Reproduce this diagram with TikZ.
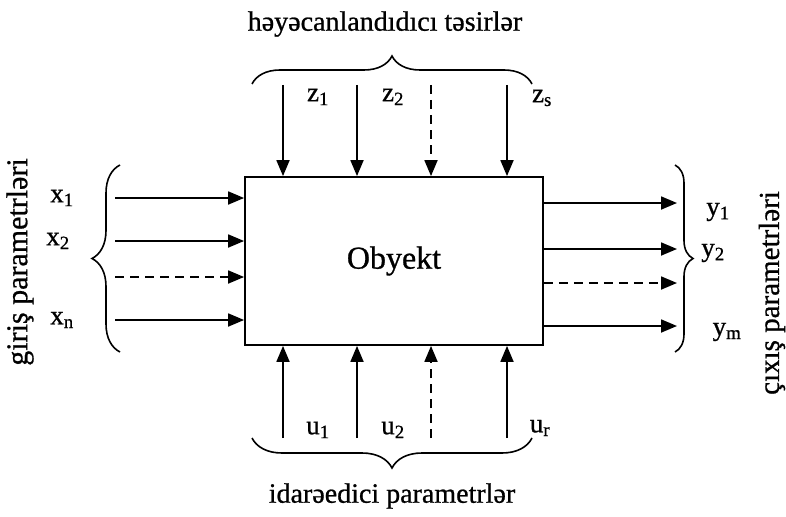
\documentclass[tikz,border=0pt]{standalone}
\usepackage{fontspec}
\setmainfont{Liberation Serif}[FakeBold=0.8]
\usetikzlibrary{arrows.meta,decorations.pathreplacing}
\begin{document}
\begin{tikzpicture}[x=1pt,y=-1pt,
  conn/.style={line width=1.8pt,-{Triangle[length=16pt,width=13pt]}},
  dconn/.style={conn,dash pattern=on 9pt off 6pt},
  brc/.style={line width=1.6pt,decorate,decoration={brace,amplitude=#1}},
  lbl/.style={font=\fontsize{27}{30}\selectfont,inner sep=0pt},
  ttl/.style={font=\fontsize{28}{32}\selectfont,inner sep=0pt}]
\useasboundingbox (0,0) rectangle (786,516);
% object box
\node[draw,line width=1.8pt,minimum width=298pt,minimum height=168pt,inner sep=0pt,
  font=\fontsize{32}{36}\selectfont] (obj) at (394,261) {Obyekt};
% top inputs
\coordinate (t1) at (283,85); \coordinate (t2) at (357,85);
\coordinate (t3) at (431,85); \coordinate (t4) at (507,85);
\draw[conn] (t1) -- (t1 |- obj.north);
\draw[conn] (t2) -- (t2 |- obj.north);
\draw[dconn] (t3) -- (t3 |- obj.north);
\draw[conn] (t4) -- (t4 |- obj.north);
% bottom inputs
\coordinate (b1) at (283,438); \coordinate (b2) at (357,438);
\coordinate (b3) at (431,438); \coordinate (b4) at (507,438);
\draw[conn] (b1) -- (b1 |- obj.south);
\draw[conn] (b2) -- (b2 |- obj.south);
\draw[dconn] (b3) -- (b3 |- obj.south);
\draw[conn] (b4) -- (b4 |- obj.south);
% left inputs
\coordinate (l1) at (115,198); \coordinate (l2) at (115,241);
\coordinate (l3) at (115,277); \coordinate (l4) at (115,320);
\draw[conn] (l1) -- (l1 -| obj.west);
\draw[conn] (l2) -- (l2 -| obj.west);
\draw[dconn] (l3) -- (l3 -| obj.west);
\draw[conn] (l4) -- (l4 -| obj.west);
% right outputs
\coordinate (r1) at (677,203); \coordinate (r2) at (677,249);
\coordinate (r3) at (677,283); \coordinate (r4) at (677,326);
\draw[conn] (r1 -| obj.east) -- (r1);
\draw[conn] (r2 -| obj.east) -- (r2);
\draw[dconn] (r3 -| obj.east) -- (r3);
\draw[conn] (r4 -| obj.east) -- (r4);
% braces
\coordinate (tbA) at (252,84); \coordinate (tbB) at (532,84);
\draw[brc=28pt] (tbA) -- (tbB);
\coordinate (bbA) at (532,438); \coordinate (bbB) at (252,438);
\draw[brc=30pt] (bbA) -- (bbB);
\coordinate (lbA) at (120,352); \coordinate (lbB) at (120,165);
\draw[brc=28pt] (lbA) -- (lbB);
\coordinate (rbA) at (675,165); \coordinate (rbB) at (675,352);
\draw[brc=18pt] (rbA) -- (rbB);
% labels
\node[lbl] (z1) at (318,97) {z\textsubscript{1}};
\node[lbl] (z2) at (393,97) {z\textsubscript{2}};
\node[lbl] (zs) at (542,98) {z\textsubscript{s}};
\node[lbl] (x1) at (62,198) {x\textsubscript{1}};
\node[lbl] (x2) at (58,241) {x\textsubscript{2}};
\node[lbl] (xn) at (62,320) {x\textsubscript{n}};
\node[lbl] (y1) at (718,212) {y\textsubscript{1}};
\node[lbl] (y2) at (713,253) {y\textsubscript{2}};
\node[lbl] (ym) at (727,332) {y\textsubscript{m}};
\node[lbl] (u1) at (318,430) {u\textsubscript{1}};
\node[lbl] (u2) at (393,430) {u\textsubscript{2}};
\node[lbl] (ur) at (540,428) {u\textsubscript{r}};
% titles
\node[ttl] (ttop) at (385,24) {həyəcanlandıdıcı təsirlər};
\node[ttl] (tbot) at (392,496) {idarəedici parametrlər};
\node[ttl,font=\fontsize{30}{34}\selectfont,rotate=90] (tleft) at (20,262) {giriş parametrləri};
\node[ttl,font=\fontsize{29}{34}\selectfont,rotate=90] (tright) at (772,293) {çıxış parametrləri};
\end{tikzpicture}
\end{document}
